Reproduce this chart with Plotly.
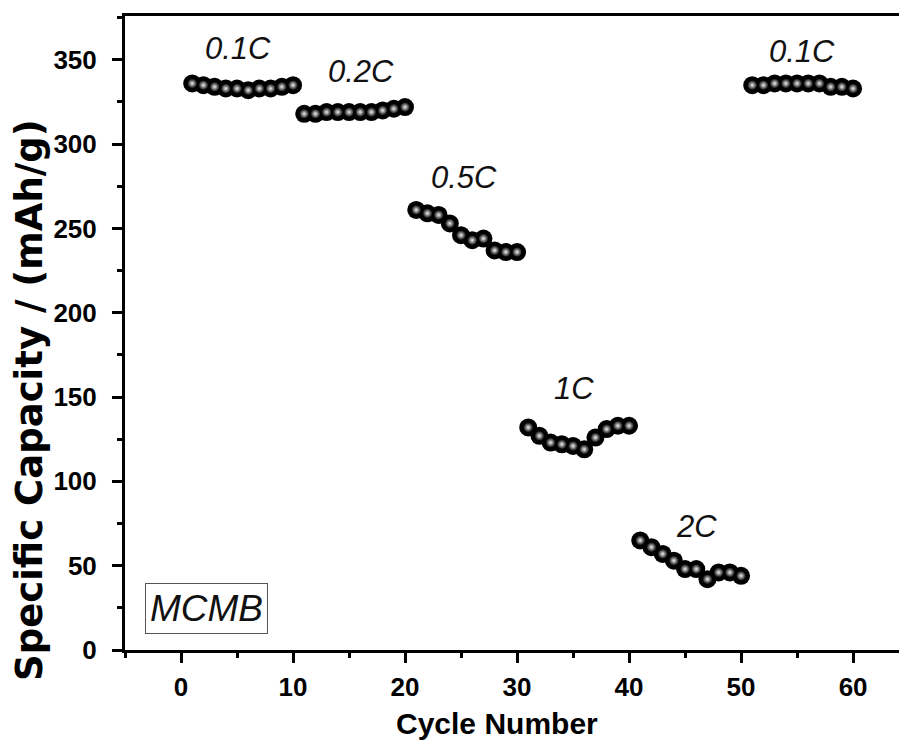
import plotly.graph_objects as go

cycles = list(range(1, 61))
capacity = [
    336, 335, 334, 333, 333, 332, 333, 333, 334, 335,   # 0.1C
    318, 318, 319, 319, 319, 319, 319, 320, 321, 322,   # 0.2C
    261, 259, 258, 253, 246, 243, 244, 237, 236, 236,   # 0.5C
    132, 127, 123, 122, 121, 119, 126, 131, 133, 133,   # 1C
    65, 61, 57, 53, 48, 48, 42, 46, 46, 44,             # 2C
    335, 335, 336, 336, 336, 336, 336, 334, 334, 333,   # 0.1C
]
rate_labels = ["0.1C", "0.2C", "0.5C", "1C", "2C", "0.1C"]
label_x = [5.1, 16.1, 25.3, 35.1, 46.0, 55.4]
label_y = [357, 343, 280, 155, 73, 355]
x_ticks = [0, 10, 20, 30, 40, 50, 60]
y_ticks = [0, 50, 100, 150, 200, 250, 300, 350]

fig = go.Figure()
fig.add_trace(go.Scatter(
    x=cycles, y=capacity, mode="markers",
    marker=dict(size=18, color="#000000", line=dict(width=0)),
    hoverinfo="skip", showlegend=False))
fig.add_trace(go.Scatter(
    x=cycles, y=capacity, mode="markers",
    marker=dict(size=10, color="#000000", line=dict(width=0),
                gradient=dict(type="radial", color="#f2f2f2")),
    hoverinfo="skip", showlegend=False))

annotations = []
for t, xx, yy in zip(rate_labels, label_x, label_y):
    annotations.append(dict(x=xx, y=yy, xref="x", yref="y", text=f"<i>{t}</i>",
                            showarrow=False, xanchor="center", yanchor="middle",
                            font=dict(family="Liberation Sans, Arial", size=31, color="#111")))
annotations.append(dict(x=2.3, y=24.5, xref="x", yref="y", text="<i>MCMB</i>", showarrow=False,
                        xanchor="center", yanchor="middle",
                        font=dict(family="Liberation Sans, Arial", size=37, color="#111"),
                        bordercolor="#555", borderwidth=1, borderpad=4, bgcolor="white"))
annotations.append(dict(x=(29 - 125) / 774, y=(650 - 400) / 634, xref="paper", yref="paper",
                        xanchor="center", yanchor="middle",
                        text="<b>Specific Capacity / (mAh/g)</b>", textangle=-90, showarrow=False,
                        font=dict(family="DejaVu Sans", size=37, color="#000")))
annotations.append(dict(x=(497 - 125) / 774, y=(650 - 723) / 634, xref="paper", yref="paper",
                        xanchor="center", yanchor="middle",
                        text="<b>Cycle Number</b>", showarrow=False,
                        font=dict(family="Liberation Sans, Arial", size=30, color="#000")))

axis_common = dict(showline=True, linecolor="#000", linewidth=3, ticks="outside",
                   tickcolor="#000", tickwidth=3, ticklen=10, showgrid=False, zeroline=False,
                   automargin=False,
                   tickfont=dict(family="Liberation Sans, Arial", size=26, color="#000"))

fig.update_layout(
    width=899, height=742,
    margin=dict(l=125, r=0, t=16, b=92, autoexpand=False),
    paper_bgcolor="white", plot_bgcolor="white",
    hovermode=False,
    annotations=annotations,
    xaxis=dict(range=[-5, 64.1], tickvals=x_ticks, ticktext=[f"<b>{v}</b>" for v in x_ticks],
               mirror=True, ticklabelstandoff=2,
               minor=dict(dtick=5, ticks="outside", ticklen=5, tickwidth=3, tickcolor="#000"),
               **axis_common),
    yaxis=dict(range=[0, 376], tickvals=y_ticks, ticktext=[f"<b>{v}</b>" for v in y_ticks],
               ticklabelstandoff=10,
               minor=dict(dtick=25, ticks="outside", ticklen=5, tickwidth=3, tickcolor="#000"),
               **axis_common),
)

fig.write_html("out.html", config={"displayModeBar": False},
               post_script="document.body.style.margin='0px';document.body.style.overflow='hidden';")
